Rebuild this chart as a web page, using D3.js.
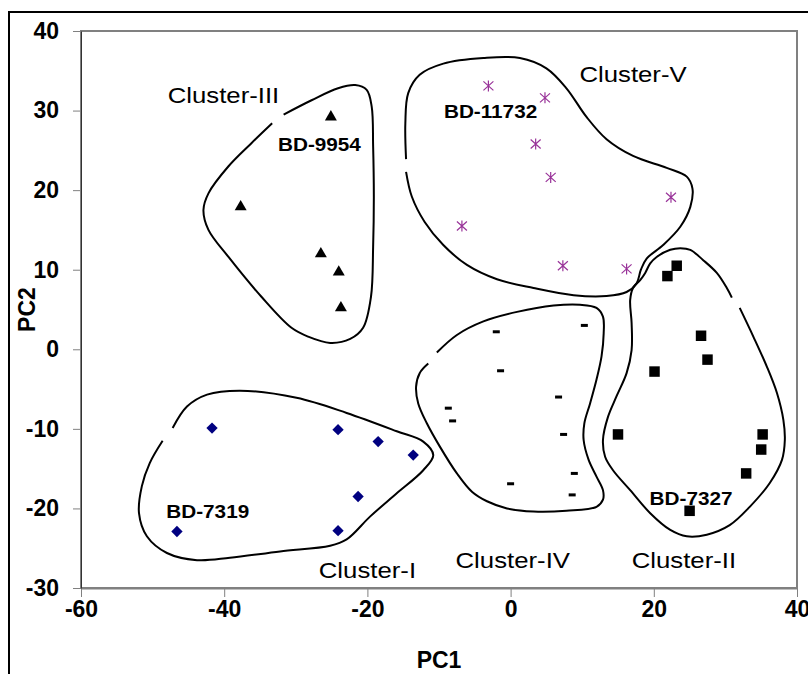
<!DOCTYPE html>
<html>
<head>
<meta charset="utf-8">
<script src="https://cdn.jsdelivr.net/npm/d3@7/dist/d3.min.js"></script>
<style>
  body { margin: 0; background: #fff; }
  text { font-family: "Liberation Sans", Arial, sans-serif; }
</style>
</head>
<body>
<svg id="chart"></svg>
<script>
// PCA scores (PC1, PC2)
var clusterI = [[-41.7, -9.9], [-24.1, -10.1], [-18.5, -11.6], [-13.6, -13.3],
                [-21.3, -18.5], [-46.6, -22.9], [-24.1, -22.8]];
var clusterII = [[23.2, 10.5], [21.9, 9.2], [26.6, 1.7], [27.5, -1.3], [20.1, -2.8],
                 [15.0, -10.7], [35.2, -10.7], [35.0, -12.6], [32.9, -15.6], [25.0, -20.3]];
var clusterIII = [[-25.1, 29.2], [-37.7, 17.9], [-26.5, 12.0], [-24.0, 9.7], [-23.7, 5.2]];
var clusterIV = [[-2.0, 2.2], [10.3, 3.0], [-1.4, -2.7], [-8.7, -7.4], [-8.1, -9.0],
                 [6.7, -6.0], [7.4, -10.7], [8.9, -15.6], [0.0, -16.9], [8.6, -18.3]];
var clusterV = [[-3.1, 33.1], [4.8, 31.6], [3.5, 25.8], [5.6, 21.6], [22.4, 19.1],
                [-6.8, 15.5], [7.3, 10.5], [16.2, 10.1]];

var pc1Ticks = [-60, -40, -20, 0, 20, 40];
var pc2Ticks = [-30, -20, -10, 0, 10, 20, 30, 40];

// hand drawn cluster outlines (data units), each open at a small gap
var outlineI = [[-47.2, -9.9], [-45.2, -7.2], [-42.4, -5.7], [-37.8, -5.2], [-29.9, -6.1],
  [-22.9, -8.0], [-15.9, -10.3], [-12.2, -11.6], [-10.8, -13.3], [-12.2, -15.2],
  [-15.9, -18.1], [-19.6, -21.0], [-22.9, -23.9], [-25.2, -24.7], [-32.2, -25.4],
  [-39.2, -26.2], [-43.8, -26.5], [-48.0, -25.6], [-50.8, -23.5], [-51.9, -20.6],
  [-51.5, -17.2], [-50.4, -14.3], [-48.6, -11.5]];
var outlineII = [[32.0, 5.2], [33.9, 1.6], [35.8, -2.2], [37.2, -5.5], [38.1, -8.9],
  [38.3, -11.4], [37.9, -13.9], [36.2, -16.8], [33.4, -19.8], [30.6, -22.1],
  [27.4, -23.3], [24.6, -23.5], [22.3, -22.7], [19.5, -20.6], [16.7, -17.7],
  [14.3, -15.2], [13.2, -13.5], [12.9, -11.4], [13.6, -8.5], [14.8, -5.9],
  [16.2, -3.0], [16.9, -0.1], [16.9, 3.3], [16.7, 6.2], [17.1, 7.7], [18.1, 8.7],
  [18.8, 9.6], [19.5, 10.8], [20.4, 11.6], [22.3, 12.5], [23.7, 12.7], [25.1, 12.5],
  [26.9, 11.2], [28.8, 9.6], [30.2, 7.7], [30.9, 6.5]];
var outlineIII = [[-31.7, 29.5], [-27.8, 31.3], [-24.1, 32.8], [-21.7, 33.2], [-20.1, 32.6],
  [-19.4, 30.5], [-19.2, 25.5], [-19.1, 19.2], [-19.2, 12.9], [-19.5, 6.6],
  [-20.6, 2.7], [-22.4, 1.3], [-25.2, 0.8], [-28.3, 1.6], [-30.6, 2.7], [-34.8, 6.6],
  [-39.4, 11.6], [-42.2, 15.0], [-42.9, 17.5], [-42.2, 19.6], [-39.4, 23.0],
  [-36.2, 25.9], [-33.3, 28.4]];
var outlineIV = [[-10.3, -0.4], [-7.5, 1.8], [-3.8, 3.5], [0.9, 4.7], [6.0, 5.5], [9.7, 5.6],
  [12.0, 5.2], [12.9, 4.1], [13.0, 2.0], [12.7, -0.9], [12.0, -3.8], [11.1, -6.8],
  [10.3, -9.3], [10.2, -11.4], [10.9, -13.9], [12.0, -16.0], [12.9, -17.7], [12.9, -18.9],
  [12.0, -19.8], [7.8, -20.3], [3.2, -20.4], [-0.5, -20.0], [-3.3, -19.1], [-5.4, -17.9],
  [-7.5, -15.6], [-9.9, -12.2], [-11.7, -9.3], [-12.9, -6.8], [-13.2, -4.7],
  [-12.7, -3.0], [-11.5, -1.8]];
var outlineV = [[-14.6, 22.3], [-13.8, 19.2], [-12.0, 16.0], [-9.4, 13.1], [-6.1, 10.6],
  [-1.9, 8.8], [3.2, 7.7], [8.8, 6.8], [13.4, 6.7], [16.2, 7.2], [17.6, 8.3], [18.2, 10.0],
  [19.0, 11.4], [21.3, 13.1], [23.7, 15.4], [25.1, 17.9], [25.4, 20.2], [24.6, 21.7],
  [21.8, 22.8], [17.1, 24.3], [13.4, 26.4], [10.6, 29.2], [7.8, 32.8], [5.0, 35.3],
  [1.3, 36.6], [-3.8, 36.6], [-9.4, 35.9], [-12.7, 34.5], [-14.3, 32.2], [-14.7, 28.4],
  [-14.6, 23.9]];

// annotations: [text, pc1, pc2]
var clusterNames = [["Cluster-I", -20.0, -28.8], ["Cluster-II", 24.2, -27.5],
  ["Cluster-III", -40.1, 31.0], ["Cluster-IV", 0.3, -27.5], ["Cluster-V", 17.1, 33.6]];
var genotypeNames = [["BD-7319", -42.3, -21.2], ["BD-7327", 25.2, -19.6],
  ["BD-9954", -26.7, 24.9], ["BD-11732", -2.8, 29.1]];

(function () {
  var W = 808, H = 674;
  var plotL = 81, plotR = 797, plotT = 31, plotB = 588;

  var svg = d3.select("#chart").attr("width", W).attr("height", H);

  var x = d3.scaleLinear().domain([-60, 40]).range([plotL, plotR]);
  var y = d3.scaleLinear().domain([-30, 40]).range([plotB, plotT]);
  var fmt = function(d) { return String(d); }; // plain hyphen minus like the original

  // outer frame of the figure
  svg.append("path")
    .attr("d", "M9,674 L9,12 L808,12")
    .attr("fill", "none").attr("stroke", "#000").attr("stroke-width", 2);

  // plot area border
  svg.append("rect")
    .attr("x", plotL).attr("y", plotT)
    .attr("width", plotR - plotL).attr("height", plotB - plotT)
    .attr("fill", "none").attr("stroke", "#808080").attr("stroke-width", 2);

  // x axis
  var xAxis = svg.append("g")
    .attr("transform", "translate(0," + plotB + ")")
    .call(d3.axisBottom(x).tickValues(pc1Ticks).tickSize(9).tickSizeOuter(0).tickFormat(fmt));
  xAxis.select(".domain").attr("stroke", "#808080").attr("stroke-width", 2);
  xAxis.selectAll(".tick line").attr("stroke", "#808080");
  xAxis.selectAll(".tick text")
    .attr("y", 13).attr("font-size", 23).attr("font-weight", "bold")
    .attr("font-family", "Liberation Sans, Arial").attr("fill", "#000");

  // y axis
  var yAxis = svg.append("g")
    .attr("transform", "translate(" + plotL + ",0)")
    .call(d3.axisLeft(y).tickValues(pc2Ticks).tickSize(8).tickSizeOuter(0).tickFormat(fmt));
  yAxis.select(".domain").attr("stroke", "#333").attr("stroke-width", 1);
  yAxis.selectAll(".tick line").attr("stroke", "#808080");
  yAxis.selectAll(".tick text")
    .attr("x", -22).attr("font-size", 23).attr("font-weight", "bold")
    .attr("font-family", "Liberation Sans, Arial").attr("fill", "#000");

  // axis titles
  svg.append("text")
    .attr("x", (plotL + plotR) / 2).attr("y", 668)
    .attr("text-anchor", "middle").attr("font-size", 23).attr("font-weight", "bold")
    .text("PC1");
  svg.append("text")
    .attr("transform", "translate(35," + (plotT + plotB) / 2 + ") rotate(-90)")
    .attr("text-anchor", "middle").attr("font-size", 23).attr("font-weight", "bold")
    .text("PC2");

  // outlines
  var outline = d3.line()
    .x(function(d) { return x(d[0]); })
    .y(function(d) { return y(d[1]); })
    .curve(d3.curveCatmullRom.alpha(0.5));

  [outlineI, outlineII, outlineIII, outlineIV, outlineV].forEach(function(o) {
    svg.append("path")
      .attr("d", outline(o))
      .attr("fill", "none").attr("stroke", "#000").attr("stroke-width", 2);
  });

  // markers
  function place(d) { return "translate(" + x(d[0]) + "," + y(d[1]) + ")"; }

  svg.append("g").selectAll("path").data(clusterI).enter().append("path")
    .attr("transform", function(d) { return place(d) + " rotate(45)"; })
    .attr("d", d3.symbol().type(d3.symbolSquare).size(64))
    .attr("fill", "#000080");

  svg.append("g").selectAll("path").data(clusterII).enter().append("path")
    .attr("transform", place)
    .attr("d", d3.symbol().type(d3.symbolSquare).size(110))
    .attr("fill", "#000");

  svg.append("g").selectAll("path").data(clusterIII).enter().append("path")
    .attr("transform", place)
    .attr("d", d3.symbol().type(d3.symbolTriangle).size(62))
    .attr("fill", "#000");

  svg.append("g").selectAll("rect").data(clusterIV).enter().append("rect")
    .attr("x", function(d) { return x(d[0]) - 3.5; })
    .attr("y", function(d) { return y(d[1]) - 1.5; })
    .attr("width", 7).attr("height", 3)
    .attr("fill", "#000");

  var star = "M0,-5.5L0,5.5M-5,-4.5L5,4.5M-5,4.5L5,-4.5";
  svg.append("g").selectAll("path").data(clusterV).enter().append("path")
    .attr("transform", place)
    .attr("d", star)
    .attr("fill", "none").attr("stroke", "#993399").attr("stroke-width", 1.2);

  // labels (the original text boxes are stretched a little horizontally)
  function label(d, size, weight) {
    svg.append("text")
      .attr("transform", "translate(" + x(d[1]) + "," + y(d[2]) + ") scale(1.12,1)")
      .attr("text-anchor", "middle")
      .attr("font-size", size).attr("font-weight", weight)
      .attr("fill", "#000")
      .text(d[0]);
  }
  clusterNames.forEach(function(d) { label(d, 23, "normal"); });
  genotypeNames.forEach(function(d) { label(d, 18.5, "bold"); });
})();
</script>
</body>
</html>
